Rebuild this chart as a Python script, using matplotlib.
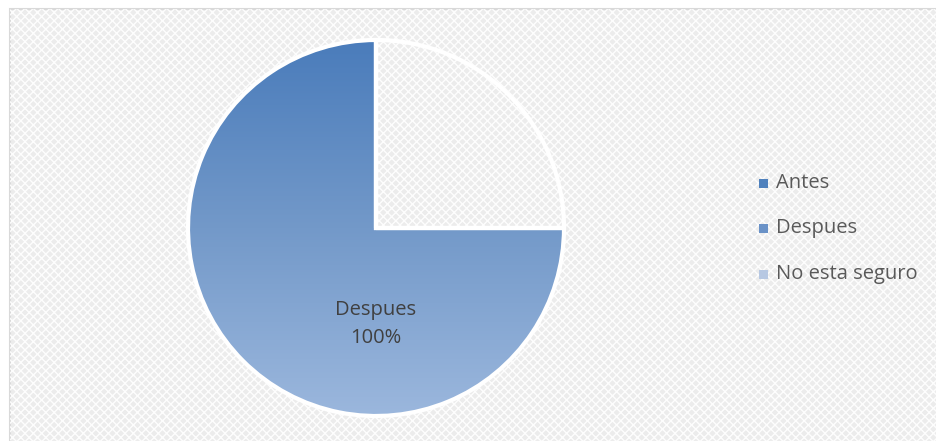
import numpy as np
import matplotlib
matplotlib.use("Agg")
import matplotlib.pyplot as plt
from matplotlib.patches import Rectangle

plt.rcParams['font.family'] = ['Open Sans', 'DejaVu Sans']

categories = ['Antes', 'Despues', 'No esta seguro']
shares = [0, 100, 0]           # percentages shown in the label
# sweep of each drawn wedge in degrees, last one is the blank quarter
sweep = [0, 270, 0, 90]
legend_colors = ['#4f81bd', '#6a92c7', '#b7c8e2']

W, H = 936, 441
fig = plt.figure(figsize=(W / 100, H / 100), dpi=100)
fig.patch.set_facecolor('white')

# textured background of the chart area
bg = fig.add_axes([0, 0, 1, 1])
bg.set_xlim(0, W)
bg.set_ylim(H, 0)
bg.axis('off')
bg.add_patch(Rectangle((10, 9), W, H, facecolor='#ececec', edgecolor='#d9d9d9',
                       lw=1.5, zorder=0))
bg.add_patch(Rectangle((10, 9), W, H, facecolor='none', edgecolor='white',
                       hatch='xxxx', lw=0, zorder=1, alpha=0.9))

# pie
cx, cy, r = 376, 228, 188
ax = fig.add_axes([(cx - r) / W, (H - cy - r) / H, 2 * r / W, 2 * r / H])

wedges, _ = ax.pie(sweep, startangle=90, counterclock=True, radius=1,
                   wedgeprops=dict(edgecolor='white', linewidth=3))
wedges[3].set_facecolor('none')
ax.set_aspect('equal')
ax.axis('off')

# vertical gradient inside the Despues slice
grad = np.linspace(0, 1, 256).reshape(-1, 1)
cmap = matplotlib.colors.LinearSegmentedColormap.from_list(
    'g', ['#4a7cbb', '#7399c9', '#9bb7dd'])
im = ax.imshow(grad, extent=[-1, 1, -1, 1], origin='upper', cmap=cmap,
               aspect='auto', zorder=0.5)
im.set_clip_path(wedges[1])
wedges[1].set_facecolor('none')
wedges[1].set_zorder(2)
ax.set_xlim(-1, 1)
ax.set_ylim(-1, 1)

ax.text(0, -0.51, f"{categories[1]}\n{shares[1]}%", ha='center', va='center',
        fontsize=14.5, color='#404040', linespacing=1.55)

# legend
leg_x, leg_y0, leg_dy = 763, 183, 45.5
for i, (name, col) in enumerate(zip(categories, legend_colors)):
    y = leg_y0 + i * leg_dy
    bg.add_patch(Rectangle((leg_x - 4.5, y - 4.5), 9, 9, facecolor=col,
                           edgecolor='none', zorder=3))
    bg.text(leg_x + 13, y, name, fontsize=14.5, color='#595959',
            va='center', ha='left', zorder=3)

fig.savefig('out.png', dpi=100)
